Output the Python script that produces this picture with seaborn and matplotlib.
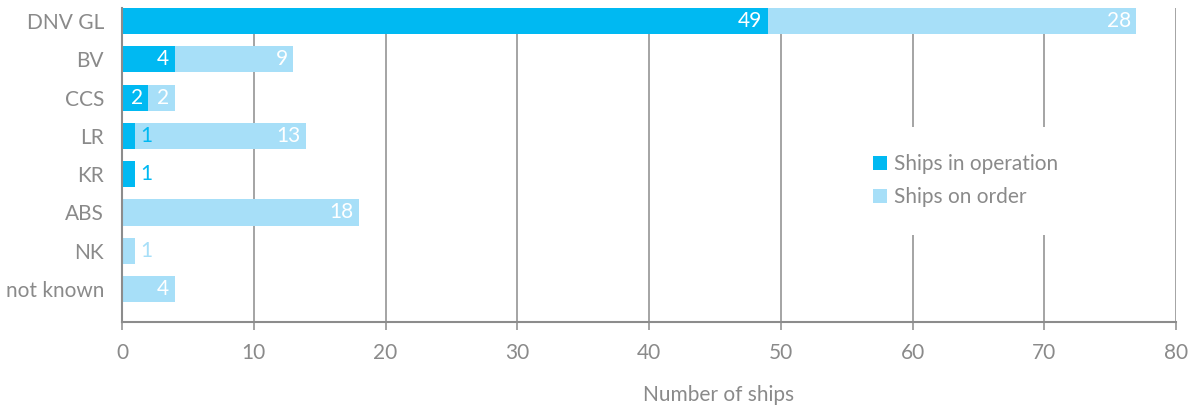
import matplotlib
matplotlib.use("Agg")
import matplotlib.pyplot as plt
import seaborn as sns
import pandas as pd
from matplotlib.patches import Patch

categories = ["DNV GL", "BV", "CCS", "LR", "KR", "ABS", "NK", "not known"]
in_operation = [49, 4, 2, 1, 1, 0, 0, 0]
on_order = [28, 9, 2, 13, 0, 18, 1, 4]
x_ticks = [0, 10, 20, 30, 40, 50, 60, 70, 80]

DARK = "#00B9F2"
LIGHT = "#A7DFF8"
GRAY = "#8C8C8C"
TEXT = "#8A8A8A"

sns.set_theme(style="white")
plt.rcParams["font.family"] = ["Lato", "DejaVu Sans"]
plt.rcParams["font.weight"] = "normal"

df = pd.DataFrame({"cat": categories, "op": in_operation, "order": on_order})
df["total"] = df["op"] + df["order"]

fig = plt.figure(figsize=(11.93, 4.07), dpi=100)
ax = fig.add_axes([122 / 1193, 85 / 407, (1176 - 122) / 1193, (322 - 8) / 407])

sns.barplot(data=df, x="total", y="cat", color=LIGHT, orient="h", width=0.68,
            saturation=1, edgecolor="none", linewidth=0, ax=ax, zorder=3)
sns.barplot(data=df, x="op", y="cat", color=DARK, orient="h", width=0.68,
            saturation=1, edgecolor="none", linewidth=0, ax=ax, zorder=3)

FS = 15
for i, (op, od) in enumerate(zip(in_operation, on_order)):
    if op > 0:
        if op >= 2:
            ax.annotate(str(op), (op, i), xytext=(-4, 0), textcoords="offset points",
                        ha="right", va="center", color="white", fontsize=FS, zorder=5)
        else:
            ax.annotate(str(op), (op, i), xytext=(4, 0), textcoords="offset points",
                        ha="left", va="center", color=DARK, fontsize=FS, zorder=5)
    if od > 0:
        tot = op + od
        if od >= 2:
            ax.annotate(str(od), (tot, i), xytext=(-4, 0), textcoords="offset points",
                        ha="right", va="center", color="white", fontsize=FS, zorder=5)
        else:
            ax.annotate(str(od), (tot, i), xytext=(4, 0), textcoords="offset points",
                        ha="left", va="center", color=LIGHT, fontsize=FS, zorder=5)

ax.set_xlim(0, 80)
ax.set_ylim(7.86, -0.34)
ax.set_xticks(x_ticks)
ax.set_xticklabels([str(t) for t in x_ticks])
for t in x_ticks[1:]:
    ax.axvline(t, color=GRAY, linewidth=1.1, zorder=1)

for s in ["top", "right"]:
    ax.spines[s].set_visible(False)
for s in ["left", "bottom"]:
    ax.spines[s].set_color(GRAY)
    ax.spines[s].set_linewidth(1.5)
    ax.spines[s].set_zorder(4)

ax.tick_params(axis="x", direction="out", length=6, width=1.1, color=GRAY,
               labelsize=FS, labelcolor=TEXT, pad=9, bottom=True)
ax.tick_params(axis="y", length=0, labelsize=FS, labelcolor=TEXT, pad=13)
ax.set_ylabel("")
ax.set_xlabel("Number of ships", fontsize=FS, color=TEXT, labelpad=16)
ax.xaxis.set_label_coords(0.566, -0.20)

handles = [Patch(facecolor=DARK, edgecolor="none"), Patch(facecolor=LIGHT, edgecolor="none")]
leg = ax.legend(handles, ["Ships in operation", "Ships on order"], loc="center left",
                bbox_to_anchor=(0.677, 0.45), frameon=True, fontsize=FS,
                handlelength=0.65, handleheight=0.65, handletextpad=0.35,
                labelspacing=0.65, borderpad=1.3, labelcolor=TEXT)
leg.get_frame().set_facecolor("white")
leg.get_frame().set_edgecolor("none")
leg.get_frame().set_alpha(1)
leg.set_zorder(6)

fig.savefig("out.png", dpi=100)
